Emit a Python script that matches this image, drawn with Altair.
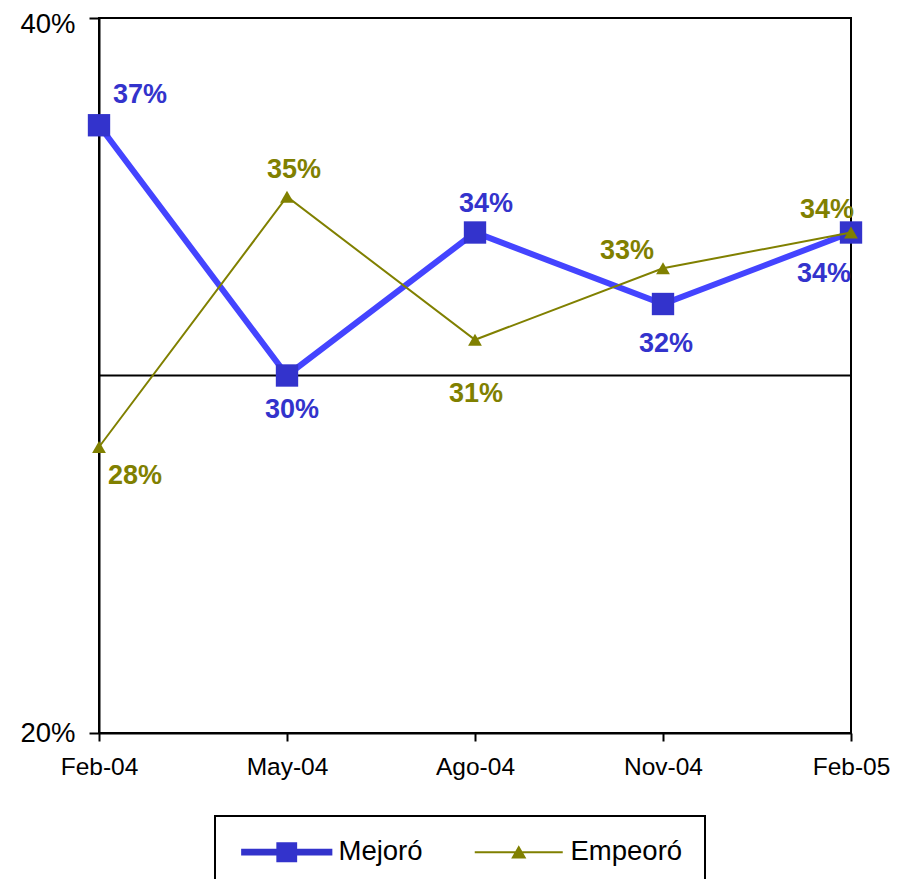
import altair as alt
import pandas as pd

# ---- data ----
months = ["Feb-04", "May-04", "Ago-04", "Nov-04", "Feb-05"]
mejoro = [0.37, 0.30, 0.34, 0.32, 0.34]
empeoro = [0.28, 0.35, 0.31, 0.33, 0.34]
series_names = ["Mejoró", "Empeoró"]
ref_line = [0.30]
y_ticks = [0.20, 0.40]

# ---- styles ----
FONT = "Liberation Sans"
BLUE_LINE = "#4444FF"
BLUE_DARK = "#3333CC"
OLIVE = "#808000"

# label offsets (dx, dy) per point, style only
offsets = {
    "Mejoró": [(41, -30), (5, 34), (11, -29), (3, 40), (-27, 41)],
    "Empeoró": [(36, 29), (7, -27), (1, 54), (-36, -17), (-24, -23)],
}

rows = []
for i, m in enumerate(months):
    rows.append({"month": m, "series": "Mejoró", "value": mejoro[i], "idx": i})
    rows.append({"month": m, "series": "Empeoró", "value": empeoro[i], "idx": i})
df = pd.DataFrame(rows)

x_enc = alt.X(
    "month:N",
    sort=months,
    scale=alt.Scale(type="point", padding=0),
    axis=alt.Axis(
        title=None, labelAngle=0, labelFont=FONT, labelFontSize=24.5,
        labelColor="black", tickSize=8, tickColor="black", tickWidth=2,
        domainColor="black", domainWidth=2, labelPadding=14, grid=False,
    ),
)
y_enc = alt.Y(
    "value:Q",
    scale=alt.Scale(domain=[0.20, 0.40], nice=False, zero=False),
    axis=alt.Axis(
        title=None, values=y_ticks, format=".0%", labelFont=FONT,
        labelFontSize=27.5, labelColor="black", tickSize=10, tickColor="black",
        tickWidth=2, domainColor="black", domainWidth=2, labelPadding=14,
        labelOffset={"condition": {"test": "datum.value > 0.3", "value": 6}, "value": 0},
        grid=False,
    ),
)

base = alt.Chart(df)

ref = alt.Chart(pd.DataFrame({"value": ref_line})).mark_rule(
    color="black", strokeWidth=2
).encode(y=y_enc)

line_m = base.transform_filter(alt.datum.series == "Mejoró").mark_line(
    color=BLUE_LINE, strokeWidth=6
).encode(x=x_enc, y=y_enc)
pts_m = base.transform_filter(alt.datum.series == "Mejoró").mark_point(
    shape="square", filled=True, size=500, color=BLUE_DARK, opacity=1
).encode(x=x_enc, y=y_enc)
line_e = base.transform_filter(alt.datum.series == "Empeoró").mark_line(
    color=OLIVE, strokeWidth=2
).encode(x=x_enc, y=y_enc)
pts_e = base.transform_filter(alt.datum.series == "Empeoró").mark_point(
    shape="triangle-up", filled=True, size=190, color=OLIVE, opacity=1
).encode(x=x_enc, y=y_enc)

labels = []
for s, col in (("Mejoró", BLUE_DARK), ("Empeoró", OLIVE)):
    for i, (dx, dy) in enumerate(offsets[s]):
        labels.append(
            base.transform_filter(
                (alt.datum.series == s) & (alt.datum.idx == i)
            ).mark_text(
                font=FONT, fontSize=27, fontWeight="bold", color=col,
                dx=dx, dy=dy, align="center", baseline="middle",
            ).encode(x=x_enc, y=y_enc, text=alt.Text("value:Q", format=".0%"))
        )

# legend (symbols only, via scale domain)
path_m = "M-5.7,-0.42H5.7V0.42H-5.7Z M-1.3,-1.25H1.3V1.25H-1.3Z"
path_e = "M-5.5,-0.125H5.5V0.125H-5.5Z M0,-0.85L0.95,0.8L-0.95,0.8Z"
legend_layer = alt.Chart(pd.DataFrame({"series": series_names, "month": months[:2], "value": [0.3, 0.3]})).transform_filter(
    "false"
).mark_point(filled=True, opacity=1).encode(
    x=x_enc,
    y=y_enc,
    color=alt.Color(
        "series:N",
        scale=alt.Scale(domain=series_names, range=[BLUE_DARK, OLIVE]),
        legend=alt.Legend(title=None),
    ),
    shape=alt.Shape(
        "series:N",
        scale=alt.Scale(domain=series_names, range=[path_m, path_e]),
        legend=alt.Legend(title=None),
    ),
)

chart = alt.layer(ref, line_m, pts_m, line_e, pts_e, *labels, legend_layer).properties(
    width=752,
    height=715,
    autosize=alt.AutoSizeParams(type="none"),
    padding={"left": 91, "top": 10, "right": 50, "bottom": 150},
).configure_view(
    stroke="black", strokeWidth=2
).configure_legend(
    orient="none", legendX=116, legendY=798, direction="horizontal", columns=2,
    strokeColor="black", strokeWidth=2, fillColor="white", padding=22,
    labelFont=FONT, labelFontSize=27.5, labelColor="black",
    symbolSize=256, symbolOffset=36, labelOffset=38, columnPadding=46,
    symbolStrokeWidth=0, symbolOpacity=1,
)

chart.save("out.html", embed_options={"renderer": "svg", "actions": False})
